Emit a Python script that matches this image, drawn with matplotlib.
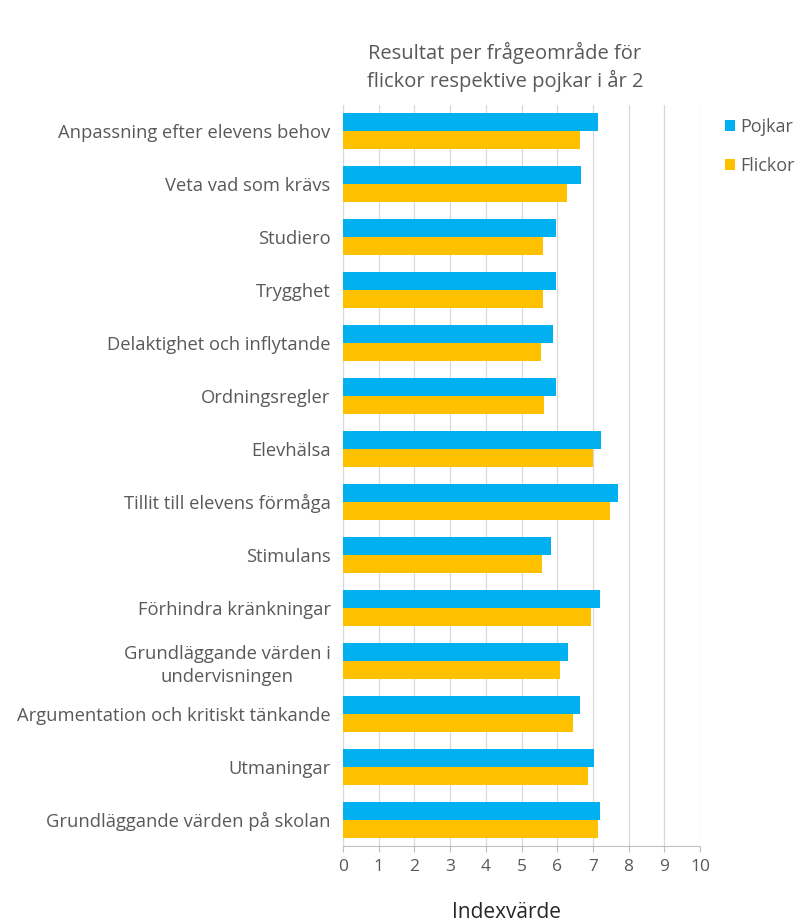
import matplotlib.pyplot as plt
import numpy as np

plt.rcParams['font.family'] = ['Open Sans', 'DejaVu Sans']

categories = [
    "Anpassning efter elevens behov",
    "Veta vad som krävs",
    "Studiero",
    "Trygghet",
    "Delaktighet och inflytande",
    "Ordningsregler",
    "Elevhälsa",
    "Tillit till elevens förmåga",
    "Stimulans",
    "Förhindra kränkningar",
    "Grundläggande värden i\nundervisningen",
    "Argumentation och kritiskt tänkande",
    "Utmaningar",
    "Grundläggande värden på skolan",
]
pojkar = [7.14, 6.68, 5.96, 5.96, 5.88, 5.96, 7.24, 7.71, 5.84, 7.21, 6.30, 6.63, 7.02, 7.21]
flickor = [6.63, 6.28, 5.61, 5.61, 5.55, 5.63, 7.00, 7.47, 5.58, 6.96, 6.07, 6.44, 6.86, 7.14]
xticks = list(range(0, 11))

blue = '#00B0F0'
orange = '#FFC000'
grey = '#595959'

fig = plt.figure(figsize=(8.02, 9.22), dpi=100)
ax = fig.add_axes([343 / 802, 1 - 846 / 922, 357 / 802, (846 - 105) / 922])

y = np.arange(len(categories))
h = 0.34
ax.barh(y - h / 2, pojkar, height=h, color=blue, label='Pojkar', zorder=3)
ax.barh(y + h / 2, flickor, height=h, color=orange, label='Flickor', zorder=3)

ax.set_ylim(len(categories) - 0.5, -0.5)
ax.set_xlim(0, 10)
ax.set_yticks(y)
ax.set_yticklabels(categories, fontsize=13.2, color=grey, multialignment='center',
                   linespacing=1.4)
ax.set_xticks(xticks)
ax.set_xticklabels([str(t) for t in xticks], fontsize=12.5, color=grey)
ax.tick_params(axis='y', length=0, pad=9)
ax.tick_params(axis='x', length=4, color='#BFBFBF', pad=5)
ax.grid(axis='x', color='#D9D9D9', linewidth=0.9, zorder=0)

for s in ['top', 'right']:
    ax.spines[s].set_visible(False)
ax.spines['bottom'].set_color('#BFBFBF')
ax.spines['left'].set_color('#D9D9D9')

fig.text(507 / 802, 1 - 912 / 922, 'Indexvärde', ha='center', va='center',
         fontsize=15, color='#262626')

fig.text(505 / 802, 1 - 67 / 922, 'Resultat per frågeområde för\nflickor respektive pojkar i år 2',
         ha='center', va='center', fontsize=14.5, color=grey, linespacing=1.35)

ax.legend(loc='upper left', bbox_to_anchor=(1.035, 1.0), frameon=False, fontsize=13,
          handlelength=0.55, handleheight=0.55, handletextpad=0.3, labelspacing=1.2,
          labelcolor=grey, borderaxespad=0.3)

fig.savefig('out.png', dpi=100)
